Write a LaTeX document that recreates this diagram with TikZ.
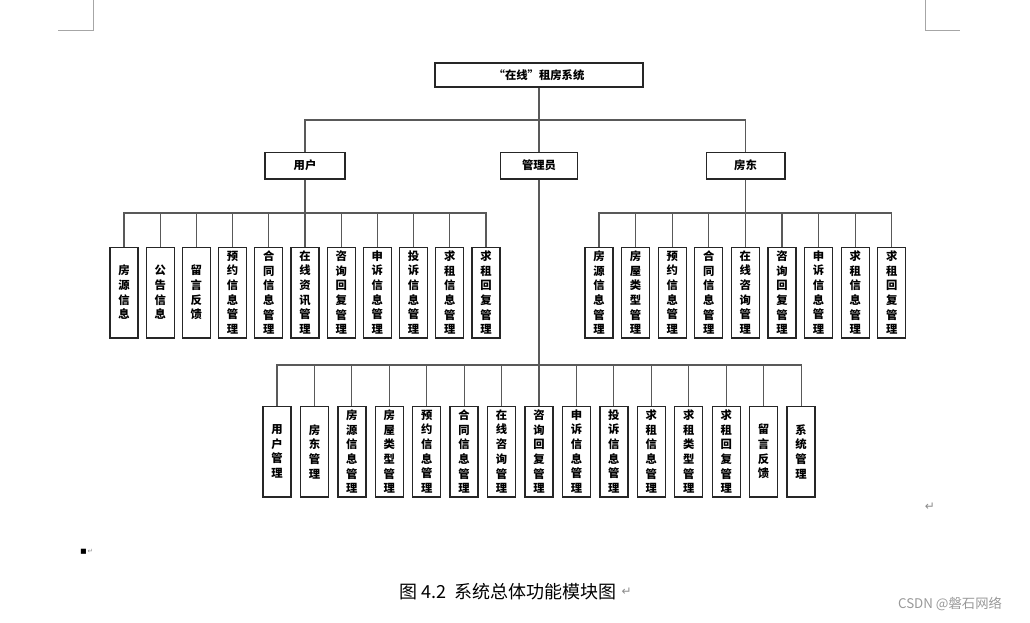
\documentclass[tikz,border=0pt]{standalone}
\usepackage{fontspec}
\newfontfamily\cjk{Noto Sans CJK SC}
\newfontfamily\sym{DejaVu Sans}
\tikzset{
  hbox/.style={draw=black!85, line width=1pt, fill=white, font=\cjk\bfseries\fontsize{8.5}{11}\selectfont,
    minimum height=20pt},
  vbox/.style={hbox, minimum width=21pt, text width=10pt, align=center, inner xsep=0pt,
    inner ysep=1.5pt, minimum height=68pt},
  link/.style={draw=black!65, line width=0.8pt},
  cropmark/.style={draw=black!35, line width=0.6pt}
}
\begin{document}
\begin{tikzpicture}[x=0.75pt,y=-0.75pt,font=\cjk]
  \useasboundingbox (0,0) rectangle (1030,622);

  % Seitenraender
  \draw[cropmark] (93,0)--(93,30)--(58,30);
  \draw[cropmark] (925,0)--(925,30)--(960,30);

  % obere Ebene
  \node[hbox, minimum width=156pt, minimum height=18pt] (root) at (539,75) {“在线”租房系统};
  \node[hbox, minimum width=60pt] (user) at (305,165.5) {用户};
  \node[hbox, minimum width=58pt] (admin) at (539,165.5) {管理员};
  \node[hbox, minimum width=59pt] (owner) at (745.5,165.5) {房东};

  \coordinate (rbus) at (539,120);
  \draw[link] (root.south) -- (rbus);
  \draw[link] (user.north) |- (rbus);
  \draw[link] (owner.north) |- (rbus);
  \draw[link] (rbus) -- (admin.north);

  % Benutzer
  \coordinate (ubus) at (305,213);
  \draw[link] (user.south) -- (ubus);
  \foreach \t [count=\i] in {{房\\源\\信\\息},{公\\告\\信\\息},{留\\言\\反\\馈},
      {预\\约\\信\\息\\管\\理},{合\\同\\信\\息\\管\\理},{在\\线\\资\\讯\\管\\理},
      {咨\\询\\回\\复\\管\\理},{申\\诉\\信\\息\\管\\理},{投\\诉\\信\\息\\管\\理},
      {求\\租\\信\\息\\管\\理},{求\\租\\回\\复\\管\\理}}
  {
    \node[vbox] (u\i) at ({124+36.2*(\i-1)},292.5) {\t};
    \draw[link] (u\i.north) |- (ubus);
  }

  % Vermieter
  \coordinate (obus) at (745.5,213);
  \draw[link] (owner.south) -- (obus);
  \foreach \t [count=\i] in {{房\\源\\信\\息\\管\\理},{房\\屋\\类\\型\\管\\理},
      {预\\约\\信\\息\\管\\理},{合\\同\\信\\息\\管\\理},{在\\线\\咨\\询\\管\\理},
      {咨\\询\\回\\复\\管\\理},{申\\诉\\信\\息\\管\\理},{求\\租\\信\\息\\管\\理},
      {求\\租\\回\\复\\管\\理}}
  {
    \node[vbox] (o\i) at ({599+36.6*(\i-1)},292.5) {\t};
    \draw[link] (o\i.north) |- (obus);
  }

  % Administrator
  \coordinate (abus) at (539,365);
  \draw[link] (admin.south) -- (abus);
  \foreach \t [count=\i] in {{用\\户\\管\\理},{房\\东\\管\\理},{房\\源\\信\\息\\管\\理},
      {房\\屋\\类\\型\\管\\理},{预\\约\\信\\息\\管\\理},{合\\同\\信\\息\\管\\理},
      {在\\线\\咨\\询\\管\\理},{咨\\询\\回\\复\\管\\理},{申\\诉\\信\\息\\管\\理},
      {投\\诉\\信\\息\\管\\理},{求\\租\\信\\息\\管\\理},{求\\租\\类\\型\\管\\理},
      {求\\租\\回\\复\\管\\理},{留\\言\\反\\馈},{系\\统\\管\\理}}
  {
    \node[vbox] (a\i) at ({277+37.43*(\i-1)},451.5) {\t};
    \draw[link] (a\i.north) |- (abus);
  }

  % Textmarken und Beschriftung
  \node[text=black!45, font=\sym\small] (ret1) at (930,507) {↵};
  \node[font=\sym\small, anchor=west, inner sep=0pt] (para) at (80,552) {\tiny■\,{\color{black!45}↵}};
  \node[font=\cjk\fontsize{13.5}{16}\selectfont] (cap) at (508,592) {图 4.2\ \ 系统总体功能模块图};
  \node[text=black!45, font=\sym\small, anchor=west, inner sep=0pt] (ret2) at (cap.east) {↵};
  \node[text=black!40, font=\cjk\fontsize{10}{12}\selectfont] (wm) at (950,604) {CSDN @磐石网络};
\end{tikzpicture}
\end{document}
